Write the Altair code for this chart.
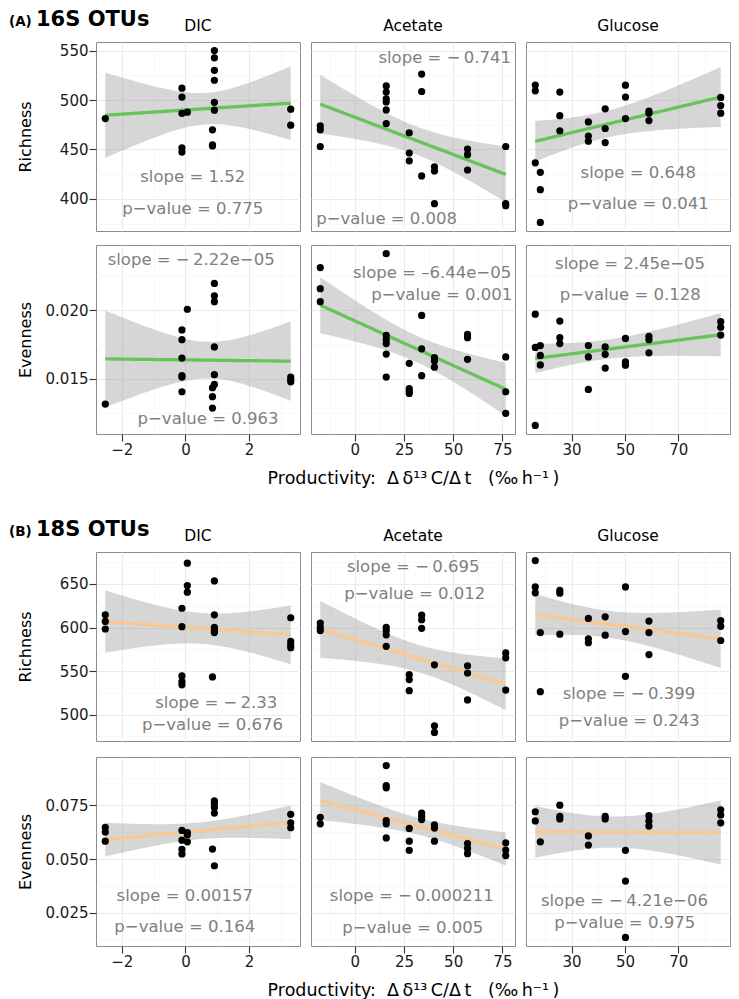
import json
import numpy as np
import pandas as pd
import altair as alt

FONT = "DejaVu Sans"
PANEL_W, PANEL_H = 204, 189
GAP = 11

COLUMNS = ["DIC", "Acetate", "Glucose"]
ROW_TITLES = ["Richness", "Evenness"]
SECTION_TAGS = ["(A)", "(B)"]
SECTION_TITLES = ["16S OTUs", "18S OTUs"]
LINE_COLORS = ["#68C35A", "#F9C893"]
X_TITLE = "Productivity:\u00a0\u00a0\u0394\u2009\u03b4\u00b9\u00b3\u2009C/\u0394\u2009t\u00a0\u00a0\u00a0(\u2030\u2009h\u207b\u00b9\u2009)"

# productivity levels (x) per treatment
X_DIC = [-2.52, -0.11, 0.06, 0.85, 0.91, 3.31]
X_ACE = [-17.5, 16.0, 27.7, 34.0, 40.5, 57.3, 76.7]
X_GLU = [16.4, 18.3, 25.6, 36.3, 42.6, 50.2, 59.0, 85.9]

# values grouped by x level
A_RICH_DIC = [[481.2], [512, 503, 486.5, 451.7, 447.4], [487.7], [469.9, 454.7, 453.5],
              [550, 542.7, 530, 520, 497.7, 489.7], [490.7, 474.5]]
A_RICH_ACE = [[473.8, 469.9, 453], [514.3, 508, 501.3, 498, 490, 476.2], [466.9, 446.4, 438.5],
              [526.2, 508.6, 423.2], [432.5, 428.2, 395.1], [450.4, 444.7, 429.2], [453, 395.1, 393.1]]
A_RICH_GLU = [[515.2, 509.3, 436.5], [426.9, 409.3, 376.2], [508, 484.2, 468.9], [477.8, 463.6, 458.3],
              [491.1, 471.2, 457], [515, 503, 481.2], [488.7, 486.7, 479.2], [502.6, 494.4, 486.7]]
A_EVEN_DIC = [[0.01317], [0.01857, 0.01786, 0.01652, 0.01524, 0.01514, 0.01407], [0.02007],
              [0.01436, 0.01371, 0.01288], [0.02195, 0.02105, 0.02062, 0.01733, 0.01531, 0.0146],
              [0.01514, 0.01495, 0.01479]]
A_EVEN_ACE = [[0.0231, 0.02157, 0.02062], [0.02412, 0.01817, 0.01786, 0.01757, 0.01681, 0.01514],
              [0.01614, 0.01429, 0.01412, 0.01395], [0.01962, 0.01719, 0.01524], [0.01655, 0.01631, 0.01586],
              [0.01824, 0.018, 0.01643], [0.0166, 0.01407, 0.0125]]
A_EVEN_GLU = [[0.01971, 0.01729, 0.01162], [0.01743, 0.01671, 0.01602], [0.01921, 0.018, 0.01757],
              [0.01743, 0.0166, 0.01424], [0.01733, 0.01679, 0.01579], [0.01795, 0.01624, 0.016],
              [0.0181, 0.01786, 0.0169], [0.01917, 0.01876, 0.01819]]
B_RICH_DIC = [[614.6, 607, 598.3], [622.1, 601, 544.4, 538, 534.2], [673.8, 648.1, 640.6], [543.3],
              [653.4, 614.6, 600.2, 597.2, 594.2], [611.2, 584, 579.9, 576.8]]
B_RICH_ACE = [[605.1, 600.2, 596.5], [600.2, 596.5, 591.6, 578.4], [545.9, 540.3, 527.5],
              [614.2, 608.9, 599.1], [557.2, 487.1, 479.6], [556.1, 547.8, 516.9], [570.8, 565.2, 528.2]]
B_RICH_GLU = [[676.8, 646.6, 639.8], [594.2, 526.3], [642.5, 639.4, 592.3], [610.4, 587, 582.5],
              [612.3, 591.2], [646.6, 595.3, 544], [607.4, 594.2, 568.9], [607.8, 601.4, 585.1]]
B_EVEN_DIC = [[0.06467, 0.06254, 0.05829], [0.0633, 0.05874, 0.05449, 0.05236], [0.06224, 0.06133, 0.05798],
              [0.05464], [0.07698, 0.07576, 0.07394, 0.07135, 0.04689], [0.07075, 0.0668, 0.06452]]
B_EVEN_ACE = [[0.06938, 0.06634], [0.09338, 0.08412, 0.08305, 0.06786, 0.06634, 0.05981],
              [0.06421, 0.05829, 0.05403], [0.07135, 0.06983, 0.06832], [0.06588, 0.06436, 0.05829],
              [0.05722, 0.05495, 0.05251], [0.05753, 0.05419, 0.0516]]
B_EVEN_GLU = [[0.07196, 0.06771], [0.05798], [0.075, 0.06983, 0.06862], [0.06072, 0.05647],
              [0.06983, 0.06862], [0.05403, 0.03975, 0.01362], [0.07014, 0.06771, 0.06528],
              [0.07287, 0.07044, 0.0668]]

# axis ticks
X_MAJOR = {"DIC": [-2, 0, 2], "Acetate": [0, 25, 50, 75], "Glucose": [30, 50, 70]}
X_MINOR = {"DIC": [-1, 1, 3], "Acetate": [-12.5, 12.5, 37.5, 62.5], "Glucose": [20, 40, 60, 80]}
Y_MAJOR = [[[400, 450, 500, 550], [0.015, 0.020]], [[500, 550, 600, 650], [0.025, 0.050, 0.075]]]
Y_MINOR = [[[375, 425, 475, 525], [0.0125, 0.0175, 0.0225]],
           [[475, 525, 575, 625, 675], [0.0125, 0.0375, 0.0625, 0.0875]]]
Y_FORMAT = ["d", ".3f"]

# annotations
M = "\u2212\u2009"
SLOPE_TEXT = [[["slope = 1.52", "slope = " + M + "0.741", "slope = 0.648"],
               ["slope = " + M + "2.22e\u221205", "slope = \u20136.44e\u221205", "slope = 2.45e\u221205"]],
              [["slope = " + M + "2.33", "slope = " + M + "0.695", "slope = " + M + "0.399"],
               ["slope = 0.00157", "slope = " + M + "0.000211", "slope = " + M + "4.21e\u221206"]]]
P_TEXT = [[["0.775", "0.008", "0.041"], ["0.963", "0.001", "0.128"]],
          [["0.676", "0.012", "0.243"], ["0.164", "0.005", "0.975"]]]
SLOPE_POS = [[[(0.23, 422.6), (45.7, 542.7), (55.0, 426.5)],
              [(0.18, 0.02364), (39.3, 0.02269), (51.9, 0.02333)]],
             [[(0.97, 513.5), (29.7, 670.0), (51.5, 523.7)],
              [(-0.02, 0.03291), (29.0, 0.03291), (49.8, 0.03064)]]]
P_POS = [[[(0.23, 389.4), (16.2, 379.5), (55.0, 394.4)],
          [(0.71, 0.01205), (44.2, 0.02114), (52.0, 0.02114)]],
         [[(0.85, 487.9), (30.5, 638.7), (51.6, 492.8)],
          [(-0.02, 0.01848), (29.5, 0.01803), (49.9, 0.02046)]]]

X_LEVELS = {"DIC": X_DIC, "Acetate": X_ACE, "Glucose": X_GLU}
DATA = [[[A_RICH_DIC, A_RICH_ACE, A_RICH_GLU], [A_EVEN_DIC, A_EVEN_ACE, A_EVEN_GLU]],
        [[B_RICH_DIC, B_RICH_ACE, B_RICH_GLU], [B_EVEN_DIC, B_EVEN_ACE, B_EVEN_GLU]]]


def flatten(levels, groups):
    xs, ys = [], []
    for xv, g in zip(levels, groups):
        for v in g:
            xs.append(xv)
            ys.append(v)
    return xs, ys


def tcrit(df):
    z = 1.959964
    g1 = (z ** 3 + z) / 4
    g2 = (5 * z ** 5 + 16 * z ** 3 + 3 * z) / 96
    g3 = (3 * z ** 7 + 19 * z ** 5 + 17 * z ** 3 - 15 * z) / 384
    return z + g1 / df + g2 / df ** 2 + g3 / df ** 3


def smooth(xs, ys, n=80):
    x = np.asarray(xs, float)
    y = np.asarray(ys, float)
    b, a = np.polyfit(x, y, 1)
    xg = np.linspace(x.min(), x.max(), n)
    fit = a + b * xg
    res = y - (a + b * x)
    s = np.sqrt((res ** 2).sum() / (len(x) - 2))
    sxx = ((x - x.mean()) ** 2).sum()
    se = s * np.sqrt(1 / len(x) + (xg - x.mean()) ** 2 / sxx)
    t = tcrit(len(x) - 2)
    return pd.DataFrame({"x": xg, "fit": fit, "lo": fit - t * se, "hi": fit + t * se})


def expand(lo, hi):
    r = hi - lo
    return [lo - 0.05 * r, hi + 0.05 * r]


FITS = [[[smooth(*flatten(X_LEVELS[COLUMNS[c]], DATA[s][r][c])) for c in range(3)]
         for r in range(2)] for s in range(2)]
XDOM = {c: expand(min(X_LEVELS[c]), max(X_LEVELS[c])) for c in COLUMNS}
YDOM = []
for s in range(2):
    row_doms = []
    for r in range(2):
        lo, hi = [], []
        for c in range(3):
            _, ys = flatten(X_LEVELS[COLUMNS[c]], DATA[s][r][c])
            f = FITS[s][r][c]
            lo.append(min(min(ys), f["lo"].min()))
            hi.append(max(max(ys), f["hi"].max()))
        row_doms.append(expand(min(lo), max(hi)))
    YDOM.append(row_doms)


def grid_axis(major, minor, dom, fmt, labels, title=None, title_kw=None):
    vals = sorted(v for v in list(major) + list(minor) if dom[0] <= v <= dom[1])
    test = "indexof(%s, datum.value) >= 0" % json.dumps(major)
    kw = dict(values=vals, grid=True, domain=False,
              gridColor={"condition": {"test": test, "value": "#EBEBEB"}, "value": "#F3F3F3"},
              gridWidth={"condition": {"test": test, "value": 1.1}, "value": 0.6})
    if labels:
        kw.update(ticks=True, tickSize=7, tickWidth=1.1, tickColor="#333333",
                  tickOpacity={"condition": {"test": test, "value": 1}, "value": 0},
                  labels=True, format=fmt, labelExpr="%s ? datum.label : ''" % test,
                  labelFont=FONT, labelFontSize=15, labelColor="#1A1A1A",
                  labelPadding=1, labelFlush=False, labelOverlap=False)
    else:
        kw.update(ticks=False, labels=False)
    if title:
        kw.update(title=title, titleFont=FONT, titleFontWeight="normal", titleColor="#000000")
        kw.update(title_kw or {})
    else:
        kw["title"] = None
    return alt.Axis(**kw)


def label_layer(text, size, bold, align, x, y):
    return alt.Chart(pd.DataFrame({"t": [text]})).mark_text(
        font=FONT, fontSize=size, fontWeight=("bold" if bold else "normal"), align=align,
        baseline="alphabetic", color="black").encode(text="t:N", x=alt.value(x), y=alt.value(y))


def panel(s, r, c):
    col = COLUMNS[c]
    xs, ys = flatten(X_LEVELS[col], DATA[s][r][c])
    pts_df = pd.DataFrame({"x": xs, "y": ys})
    fit_df = FITS[s][r][c]
    ann_df = pd.DataFrame({
        "t": [SLOPE_TEXT[s][r][c], "p\u2212value = " + P_TEXT[s][r][c]],
        "x": [SLOPE_POS[s][r][c][0], P_POS[s][r][c][0]],
        "y": [SLOPE_POS[s][r][c][1], P_POS[s][r][c][1]],
    })
    xdom, ydom = XDOM[col], YDOM[s][r]
    xaxis = grid_axis(X_MAJOR[col], X_MINOR[col], xdom, "d", labels=(r == 1),
                      title=(X_TITLE if (r == 1 and c == 1) else None),
                      title_kw=dict(titleFontSize=17.5, titlePadding=12))
    yaxis = grid_axis(Y_MAJOR[s][r], Y_MINOR[s][r], ydom, Y_FORMAT[r], labels=(c == 0),
                      title=(ROW_TITLES[r] if c == 0 else None),
                      title_kw=dict(titleFontSize=16, titleX=-71, titleBaseline="middle"))
    xsc = alt.Scale(domain=xdom, nice=False, zero=False)
    ysc = alt.Scale(domain=ydom, nice=False, zero=False)

    def X(f):
        return alt.X(f + ":Q", scale=xsc, axis=xaxis)

    def Y(f):
        return alt.Y(f + ":Q", scale=ysc, axis=yaxis)

    band = alt.Chart(fit_df).mark_area(color="#999999", opacity=0.4).encode(
        x=X("x"), y=Y("lo"), y2="hi:Q")
    line = alt.Chart(fit_df).mark_line(color=LINE_COLORS[s], strokeWidth=3.3).encode(
        x=X("x"), y=Y("fit"))
    dots = alt.Chart(pts_df).mark_circle(color="black", size=52, opacity=1).encode(
        x=X("x"), y=Y("y"))
    notes = alt.Chart(ann_df).mark_text(font=FONT, fontSize=16.5, color="#7F7F7F").encode(
        x=X("x"), y=Y("y"), text="t:N")
    layers = [band, line, dots, notes]
    if r == 0:
        layers.append(label_layer(col, 15.5, False, "center", PANEL_W / 2, -11))
        if c == 0:
            layers.append(label_layer(SECTION_TAGS[s], 13.5, True, "left", -87, -16))
            layers.append(label_layer(SECTION_TITLES[s], 21, True, "left", -60, -16))
    return alt.layer(*layers).properties(width=PANEL_W, height=PANEL_H)


sections = []
for s in range(2):
    rows = [alt.hconcat(*[panel(s, r, c) for c in range(3)], spacing=GAP, bounds="flush")
            for r in range(2)]
    sections.append(alt.vconcat(*rows, spacing=GAP))

chart = alt.vconcat(*sections, spacing=31).properties(padding=0, background="white")
chart = chart.configure_view(stroke="#8C8C8C", strokeWidth=1)
chart.save("out.html", embed_options={"renderer": "svg", "actions": False})
